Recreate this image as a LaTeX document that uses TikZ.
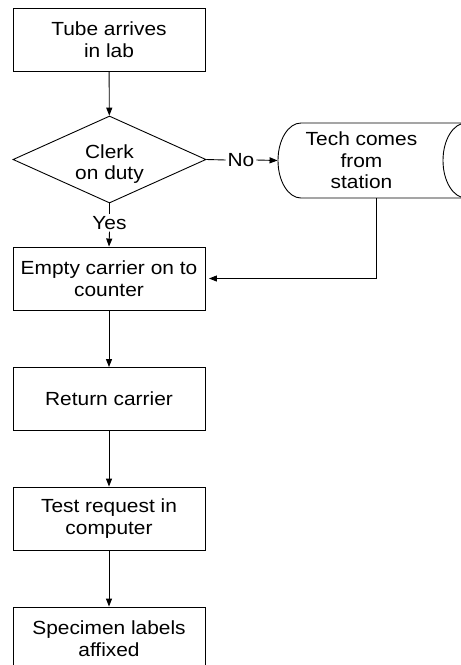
\documentclass[tikz,border=0pt]{standalone}
\usepackage{fontspec}
\setmainfont{Liberation Sans}[FakeStretch=1.1]
\usetikzlibrary{shapes.geometric,arrows.meta}
\begin{document}
\begin{tikzpicture}[x=1pt,y=-1pt,
  line width=0.9pt,
  txt/.style={font=\fontsize{19}{21.5}\selectfont, align=center},
  box/.style={txt, draw, rectangle, minimum width=192pt, minimum height=63pt, inner sep=0pt},
  decision/.style={draw, diamond, aspect=2.2, minimum width=193pt, minimum height=87pt, inner sep=0pt},
  lbl/.style={txt, inner sep=1.5pt},
  arr/.style={-{Triangle[length=8pt,width=6pt]}}]
\useasboundingbox (0,0) rectangle (461,665);
\clip (0,0) rectangle (461,665);

\node[box] (b1) at (109,39.5) {Tube arrives\\in lab};
\node[decision] (dec) at (109.5,159.5) {};
\node[txt, inner sep=0pt] (dect) at (109.5,164) {Clerk\\on duty};
\node[box] (b2) at (109,278.5) {Empty carrier on to\\counter};
\node[box] (b3) at (109,399) {Return carrier};
\node[box] (b4) at (109,518.5) {Test request in\\computer};
\node[box] (b5) at (109,638.5) {Specimen labels\\affixed};

\node[lbl] (yes) at (109.5,223) {Yes};
\node[lbl] (no) at (241,160) {No};

% storage (cylinder) shape
\node[txt, minimum width=167pt, minimum height=75pt, inner sep=0pt] (tech) at (361.5,160.5) {Tech comes\\from\\station};
\draw (480,123) -- (301,123) arc[start angle=90,end angle=270,x radius=23pt,y radius=37.5pt] -- (480,198);
\draw (466,160.5) ellipse [x radius=23pt, y radius=37.5pt];
\coordinate (techout) at (376,198);

\draw[arr] (b1) -- (dec);
\draw (dec.south) -- (yes.north);
\draw[arr] (yes.south) -- (b2.north);
\draw (dec.east) -- (no.west);
\draw[arr] (no.east) -- (tech.west);
\draw[arr, shorten >=3.5pt] (techout) |- (b2.east);
\draw[arr] (b2) -- (b3);
\draw[arr] (b3) -- (b4);
\draw[arr] (b4) -- (b5);
\end{tikzpicture}
\end{document}
